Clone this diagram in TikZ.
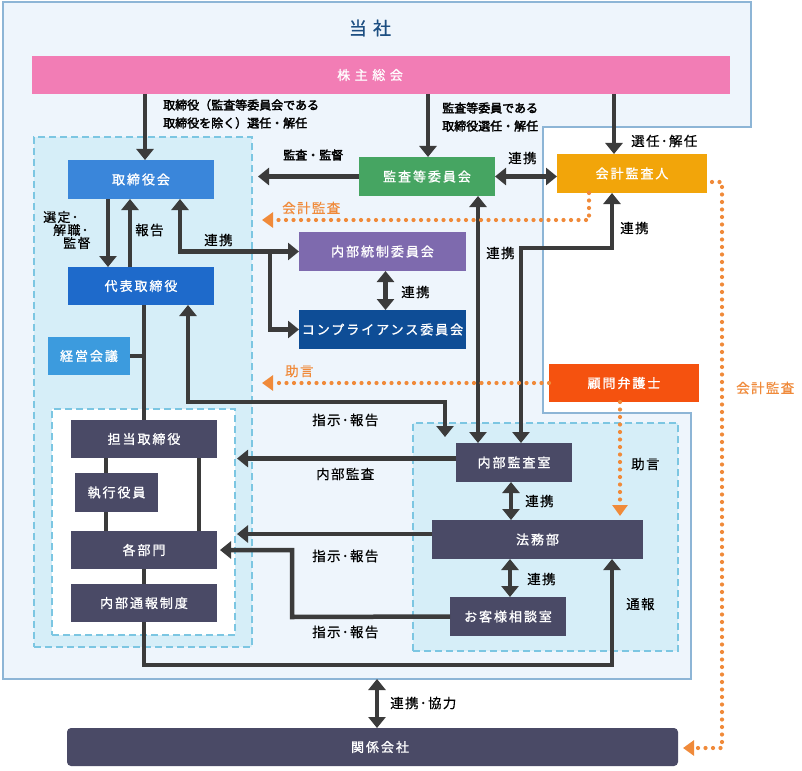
\documentclass[tikz,border=0pt]{standalone}
\usepackage{fontspec}
\setmainfont{Noto Sans CJK JP}
\newfontfamily\boxfont{Noto Sans CJK JP}[LetterSpace=15,FakeBold=1.2]
\newfontfamily\widefont{Noto Sans CJK JP}[LetterSpace=35,FakeBold=1]
\newfontfamily\labfont{Noto Sans CJK JP}[LetterSpace=10,FakeBold=0.3]
\newfontfamily\bldfont{Noto Sans CJK JP}[FakeBold=2.4]
\newfontfamily\ttlfont{Noto Sans CJK JP}[FakeBold=0.8]
\usetikzlibrary{arrows.meta}
\definecolor{outerfill}{HTML}{EEF5FC}
\definecolor{outerline}{HTML}{8DB5D6}
\definecolor{grpfill}{HTML}{D6EEF8}
\definecolor{grpline}{HTML}{7CC6E2}
\definecolor{kabuc}{HTML}{F27DB5}
\definecolor{torikaic}{HTML}{3A86DA}
\definecolor{daihyoc}{HTML}{1E6ACB}
\definecolor{keieic}{HTML}{3C9BDE}
\definecolor{kansac}{HTML}{46A562}
\definecolor{kaikeic}{HTML}{F2A50A}
\definecolor{naibuc}{HTML}{7E6AAE}
\definecolor{compc}{HTML}{0E4D96}
\definecolor{komonc}{HTML}{F5520F}
\definecolor{darkc}{HTML}{4A4A66}
\definecolor{arrowgray}{HTML}{3B3B3B}
\definecolor{dotorange}{HTML}{F08A3A}
\definecolor{titlec}{HTML}{1D4F82}
\tikzset{
  box/.style={rectangle, inner sep=0pt, outer sep=0pt, text=white, font=\boxfont\fontsize{13}{15}\selectfont},
  grp/.style={rectangle, inner sep=0pt, outer sep=0pt, draw=grpline, line width=1.5pt, dash pattern=on 7pt off 4pt},
  arr/.style={line width=4.5pt, draw=arrowgray, -{Triangle[width=17pt,length=11pt]}},
  arrtwo/.style={line width=4.5pt, draw=arrowgray, {Triangle[width=17pt,length=11pt]}-{Triangle[width=17pt,length=11pt]}},
  ln/.style={line width=4.5pt, draw=arrowgray},
  dotarr/.style={line width=4.2pt, draw=dotorange, dash pattern=on 0pt off 7.5pt, line cap=round, -{Triangle[width=15pt,length=11pt,line cap=butt]}},
  lab/.style={inner sep=0pt, font=\labfont\fontsize{13.5}{15}\selectfont, text=black},
  olab/.style={inner sep=0pt, font=\labfont\fontsize{13.5}{15}\selectfont, text=dotorange},
  blab/.style={inner sep=0pt, font=\bldfont\fontsize{12}{18}\selectfont, text=black, align=left},
}
\begin{document}
\begin{tikzpicture}[x=1pt,y=-1pt]
\useasboundingbox (0,0) rectangle (802,770);
\fill[white] (0,0) rectangle (802,770);
% outer company region
\draw[line width=1.5pt, draw=outerline, fill=outerfill] (3,2) -- (751,2) -- (751,127) -- (543,127) -- (543,413) -- (691,413) -- (691,679) -- (3,679) -- cycle;
\node[font=\ttlfont\fontsize{18}{20}\selectfont, text=titlec] (title) at (370,28) {当\hspace{6pt}社};
% groups
\node[grp, fill=grpfill, minimum width=218pt, minimum height=510pt] (grpA) at (143,392) {};
\node[grp, fill=white, minimum width=183pt, minimum height=226pt] (grpB) at (143.5,522) {};
\node[grp, fill=grpfill, minimum width=265pt, minimum height=228pt] (grpC) at (545.5,537) {};
% boxes
\node[box, fill=kabuc, minimum width=698pt, minimum height=38pt, font=\widefont\fontsize{13}{15}\selectfont] (kabu) at (381,75) {\hspace*{-22pt}株主総会};
\node[box, fill=torikaic, minimum width=146pt, minimum height=39pt] (torikai) at (141,179.5) {取締役会};
\node[box, fill=daihyoc, minimum width=146pt, minimum height=38pt] (daihyo) at (141,286) {代表取締役};
\node[box, fill=keieic, minimum width=82pt, minimum height=38pt] (keiei) at (89,356) {経営会議};
\node[box, fill=darkc, minimum width=146pt, minimum height=38pt] (tanto) at (144,439) {担当取締役};
\node[box, fill=darkc, minimum width=83pt, minimum height=39pt] (shikko) at (116.5,492.5) {執行役員};
\node[box, fill=darkc, minimum width=146pt, minimum height=38pt] (kakubu) at (144,550) {各部門};
\node[box, fill=darkc, minimum width=146pt, minimum height=38pt] (tsuho) at (144,603) {内部通報制度};
\node[box, fill=kansac, minimum width=136pt, minimum height=39pt] (kansa) at (427,176.5) {監査等委員会};
\node[box, fill=kaikeic, minimum width=150pt, minimum height=39pt] (kaikei) at (632,173.5) {会計監査人};
\node[box, fill=naibuc, minimum width=167pt, minimum height=39pt] (naibu) at (382.5,251.5) {内部統制委員会};
\node[box, fill=compc, minimum width=167pt, minimum height=39pt] (comp) at (382.5,329.5) {コンプライアンス委員会};
\node[box, fill=komonc, minimum width=150pt, minimum height=38pt] (komon) at (624,383) {顧問弁護士};
\node[box, fill=darkc, minimum width=116pt, minimum height=39pt] (naikan) at (514,462.5) {内部監査室};
\node[box, fill=darkc, minimum width=211pt, minimum height=39pt] (homu) at (537.5,539.5) {法務部};
\node[box, fill=darkc, minimum width=116pt, minimum height=39pt] (okyaku) at (508,616.5) {お客様相談室};
\node[box, fill=darkc, rounded corners=4pt, minimum width=611pt, minimum height=38pt] (kankei) at (372.5,747) {\hspace*{15pt}関係会社};
% coordinates
\coordinate (a1) at (145,94);
\coordinate (a2) at (428,94);
\coordinate (a3) at (614,94);
\coordinate (d1) at (262,220);
\coordinate (d2) at (722,182);
\coordinate (d3) at (722,748);
\coordinate (b1) at (270,253);
\coordinate (c0) at (445,402);
\coordinate (c1) at (445,437);
\coordinate (e1) at (521,248);
\coordinate (f1) at (292,617);
\coordinate (g1) at (612,665);
\coordinate (h1) at (377,679);
\coordinate (k1) at (620,516);
\coordinate (k2) at (262,383);
% connectors from shareholders
\draw[arr] (a1) -- (a1 |- torikai.north);
\draw[arr] (a2) -- (a2 |- kansa.north);
\draw[arr] (a3) -- (a3 |- kaikei.north);
% audit committee
\draw[arr] (kansa.west) -- ([xshift=6pt]kansa.west -| grpA.east);
\draw[arrtwo] (kansa.east) -- (kansa.east -| kaikei.west);
\draw[arrtwo] ([xshift=51pt]kansa.south) -- ([xshift=51pt]kansa.south |- naikan.north);
\draw[arrtwo] ([xshift=-20pt]kaikei.south) |- (e1) -- (e1 |- naikan.north);
% board
\draw[arr] ([xshift=-33pt]torikai.south) -- ([xshift=-33pt]torikai.south |- daihyo.north);
\draw[arr] ([xshift=-11pt]daihyo.north) -- ([xshift=-11pt]daihyo.north |- torikai.south);
\draw[arrtwo] ([xshift=39pt]torikai.south) |- (naibu.west);
\draw[arr] (b1) |- (comp.west);
\draw[arrtwo] ([xshift=3pt]naibu.south) -- ([xshift=3pt]comp.north);
\draw[arrtwo] ([xshift=47pt]daihyo.south) |- (c0) -- (c1);
% executive line
\draw[ln] (tanto.north |- daihyo.south) -- (tanto.north);
\draw[ln] (keiei.east) -- (keiei.east -| tanto.north);
\draw[ln] ([xshift=-38pt]tanto.south) -- ([xshift=-38pt]tanto.south |- shikko.north);
\draw[ln] ([xshift=-38pt]kakubu.north) -- ([xshift=-38pt]kakubu.north |- shikko.south);
\draw[ln] ([xshift=55pt]tanto.south) -- ([xshift=55pt]kakubu.north);
\draw[ln] (kakubu.south) -- (tsuho.north);
% right group
\draw[arr] ([yshift=4pt]naikan.west) -- ([xshift=2pt,yshift=4pt]naikan.west -| grpB.east);
\draw[arrtwo] ([xshift=-3pt]naikan.south) -- ([xshift=-3pt]naikan.south |- homu.north);
\draw[arr] ([yshift=5.5pt]homu.west) -- ([xshift=2pt,yshift=5.5pt]homu.west -| grpB.east);
\draw[arrtwo] ([xshift=2pt]okyaku.north) -- ([xshift=2pt]okyaku.north |- homu.south);
\draw[arr] (okyaku.west) -- (f1) |- ([xshift=3pt]kakubu.east);
\draw[arr] (tsuho.south) |- (g1) -- (g1 |- homu.south);
\draw[arrtwo] (h1) -- (h1 |- kankei.north);
% orange dotted
\draw[dotarr] ([xshift=-43pt]kaikei.south) |- (d1);
\draw[dotarr] ([xshift=5pt,yshift=-8.5pt]kaikei.east) -- (d2) -- (d3) -- ([xshift=5pt]d3 -| kankei.east);
\draw[dotarr] (komon.west) -- (k2);
\draw[dotarr] ([xshift=-4pt]komon.south) -- (k1);
% labels
\node[blab, anchor=west] (l1) at (163,114) {取締役（監査等委員会である\\取締役を除く）選任・解任};
\node[blab, anchor=west] (l2) at (442,117) {監査等委員である\\取締役選任・解任};
\node[lab, anchor=west] (l3) at (631,141) {選任･解任};
\node[blab, anchor=west] (l4) at (283,155) {監査・監督};
\node[lab, anchor=west] (l5) at (508,158) {連携};
\node[olab, anchor=west] (l6) at (282,208) {会計監査};
\node[lab, anchor=west, align=left, font=\labfont\fontsize{13}{13}\selectfont] (l7) at (43,230) {選定･\\\hspace*{10pt}解職･\\\hspace*{20pt}監督};
\node[lab, anchor=west] (l8) at (135,230) {報告};
\node[lab, anchor=west] (l9) at (204,240) {連携};
\node[lab, anchor=west] (l10) at (401,292) {連携};
\node[lab, anchor=west] (l11) at (486,253) {連携};
\node[lab, anchor=west] (l12) at (620,228) {連携};
\node[olab, anchor=west] (l13) at (285,371) {助言};
\node[olab, anchor=west] (l14) at (736,388) {会計監査};
\node[lab, anchor=west] (l15) at (312,420) {指示･報告};
\node[lab, anchor=west] (l16) at (316,474) {内部監査};
\node[lab, anchor=west] (l17) at (631,464) {助言};
\node[lab, anchor=west] (l18) at (525,501) {連携};
\node[lab, anchor=west] (l19) at (312,556) {指示･報告};
\node[lab, anchor=west] (l20) at (527,579) {連携};
\node[lab, anchor=west] (l21) at (626,604) {通報};
\node[lab, anchor=west] (l22) at (312,632) {指示･報告};
\node[lab, anchor=west] (l23) at (390,703) {連携･協力};
\end{tikzpicture}
\end{document}
